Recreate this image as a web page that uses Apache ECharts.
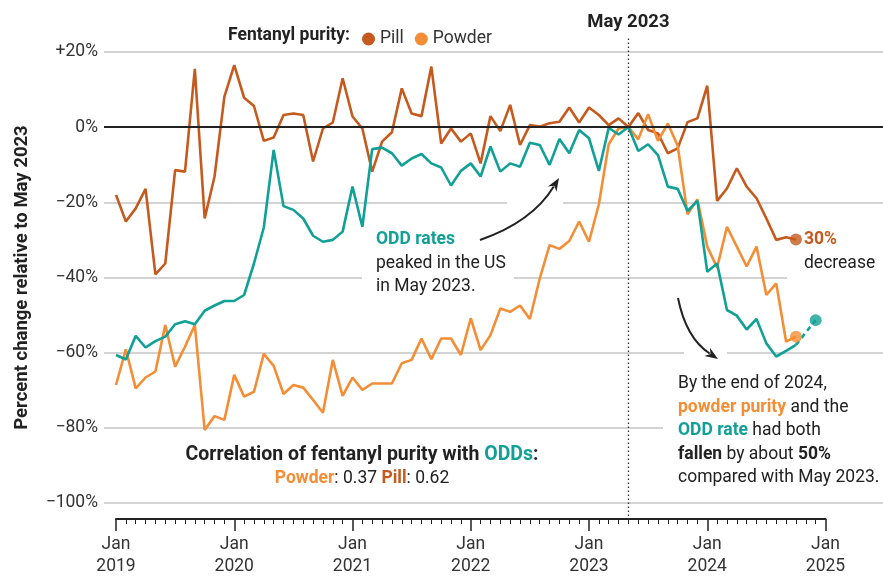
<!DOCTYPE html>
<html><head><meta charset="utf-8">
<script src="https://cdn.jsdelivr.net/npm/echarts@6/dist/echarts.min.js"></script>
<style>html,body{margin:0;padding:0;background:#fff}#c{width:883px;height:578px}</style>
</head><body><div id="c"></div>
<script>
// ---- data (percent change relative to May 2023), monthly from Jan 2019 ----
const yearLabels = ['2019','2020','2021','2022','2023','2024','2025'];
const yTickValues = [-100,-80,-60,-40,-20,0,20];
const pill = [
  -18.1,-25.2,-21.7,-16.5,-39.3,-36.4,-11.5,-11.9,15.5,-24.4,-13.2,8.1,
  16.5,7.8,5.6,-3.7,-2.8,3.2,3.6,3.2,-9.2,-0.4,1.2,13.0,
  2.8,-0.4,-11.9,-3.9,-1.4,10.3,3.6,2.9,16.1,-4.4,-0.4,-3.9,
  -1.7,-9.7,2.9,-1.1,5.9,-4.8,0.5,0.1,1.0,1.4,5.2,1.2,
  5.2,3.2,0.5,2.3,0,3.7,-0.8,-1.7,-7.0,-5.7,1.3,2.3,
  11.0,-19.7,-16.4,-11.0,-15.9,-19.0,-24.4,-30.1,-29.4,-30.0
];
const powder = [
  -68.8,-59.3,-69.7,-66.8,-65.2,-52.8,-63.9,-58.6,-52.8,-80.8,-77.1,-78.1,
  -66.1,-71.9,-70.6,-60.5,-63.7,-71.2,-68.8,-69.5,-72.8,-76.2,-62.1,-71.7,
  -66.8,-70.1,-68.4,-68.4,-68.4,-63.0,-62.1,-56.4,-61.9,-56.4,-56.4,-60.8,
  -51.0,-59.5,-55.5,-48.4,-49.3,-47.6,-51.2,-40.4,-31.5,-32.5,-30.4,-25.2,
  -30.6,-20.6,-4.6,-0.4,0,-3.3,3.4,-3.7,0.9,-5.0,-23.3,-19.3,
  -31.9,-37.5,-26.6,-31.9,-37.2,-31.9,-44.8,-41.7,-57.2,-55.9
];
const odd = [
  -60.8,-62.0,-55.7,-58.8,-57.1,-55.9,-52.6,-51.8,-52.6,-49.0,-47.6,-46.4,
  -46.4,-44.8,-36.4,-26.8,-6.1,-21.1,-22.1,-24.4,-29.0,-30.6,-30.1,-27.9,
  -15.9,-26.6,-5.9,-5.5,-7.0,-10.3,-8.4,-7.2,-9.7,-10.8,-15.6,-11.7,
  -9.7,-13.2,-5.2,-11.9,-9.7,-10.6,-4.2,-4.8,-10.1,-3.2,-7.0,-0.8,
  -3.0,-11.7,-0.2,-2.0,0,-6.4,-4.6,-7.5,-15.9,-16.5,-22.4,-19.7,
  -38.6,-36.4,-48.8,-50.3,-54.0,-51.2,-57.7,-61.2,-59.7,-58.1,
  null,-51.5
];
const referenceMonth = 52; // May 2023

// ---- styling ----
const F = 'Roboto, "Liberation Sans", sans-serif';
const FS = 17.5;
const PILL = '#c55a1e', POWDER = '#f38e36', ODD = '#11a096', INK = '#222';

const pairs = arr => arr.map((v,i)=>[i,v]);
const lastIdx = pill.length - 1;
const oddSolid = pairs(odd).filter(p=>p[1]!==null && p[0]<=lastIdx);
const oddDash = pairs(odd).filter(p=>p[1]!==null && p[0]>=lastIdx);
const oddEnd = oddDash[oddDash.length-1];

function arrow(x0,y0,cx,cy,x1,y1){
  const dx=x1-cx, dy=y1-cy, L=Math.hypot(dx,dy), ux=dx/L, uy=dy/L, hl=13, hw=5;
  const bx=x1-ux*hl, by=y1-uy*hl;
  return [
    {type:'bezierCurve', z:5, shape:{x1:x0,y1:y0,cpx1:cx,cpy1:cy,x2:bx+ux*3,y2:by+uy*3}, style:{stroke:INK,lineWidth:2,fill:null}},
    {type:'polygon', z:5, shape:{points:[[x1,y1],[bx-uy*hw,by+ux*hw],[bx+ux*4,by+uy*4],[bx+uy*hw,by-ux*hw]]}, style:{fill:INK}}
  ];
}
function gap(x,y,w){ return {type:'rect', z:1, shape:{x:x,y:y-6,width:w,height:12}, style:{fill:'#fff'}}; }
function txt(x,y,text,rich,align){
  return {type:'text', z:6, x:x, y:y, style:{text:text, fontFamily:F, fontSize:FS, fill:INK, lineHeight:23.5,
    align:align||'left', textAlign:align||'left', verticalAlign:'top', textVerticalAlign:'top', rich:rich||{}}};
}
const B = (c,s)=>({fontFamily:F,fontSize:s||FS,fontWeight:'bold',fill:c,lineHeight:23.5});
const R = ()=>({fontFamily:F,fontSize:FS,fill:INK,lineHeight:23.5});

const chart = echarts.init(document.getElementById('c'), null, {renderer:'canvas'});
chart.setOption({
  animation:false,
  backgroundColor:'#fff',
  textStyle:{fontFamily:F},
  grid:[
    {left:104,right:0,top:52,bottom:75},
    {left:116,right:57.5,top:52,bottom:75},
    {left:116,right:57.5,top:37,bottom:58}
  ],
  legend:{data:['Pill','Powder'], left:357, top:25, icon:'circle', itemWidth:13, itemHeight:13, itemGap:11,
    selectedMode:false, textStyle:{fontFamily:F,fontSize:FS,color:'#333'}},
  xAxis:[
    {gridIndex:0,type:'value',min:0,max:1,show:false},
    {gridIndex:1,type:'value',min:0,max:72,interval:12,offset:17,
      axisLine:{show:true,onZero:false,lineStyle:{color:INK,width:2}},
      axisTick:{show:true,length:12,lineStyle:{color:INK,width:1.5}},
      minorTick:{show:true,splitNumber:12,length:5,lineStyle:{color:INK,width:1}},
      splitLine:{show:false},
      axisLabel:{margin:15,fontFamily:F,fontSize:FS,color:'#333',lineHeight:22,
        formatter:v=>'Jan\n'+yearLabels[Math.round(v/12)]}},
    {gridIndex:2,type:'value',min:0,max:72,show:false}
  ],
  yAxis:[
    {gridIndex:0,type:'value',min:yTickValues[0],max:yTickValues[yTickValues.length-1],interval:20,
      axisLine:{show:false},axisTick:{show:false},
      splitLine:{lineStyle:{color:'#c4c4c4',width:1.5}},
      axisLabel:{margin:6,fontFamily:F,fontSize:FS,color:'#333',
        formatter:v=>(v>0?'+':v<0?'\u2212':'')+Math.abs(v)+'%'},
      name:'Percent change relative to May 2023',nameLocation:'middle',nameRotate:90,nameGap:72,
      nameTextStyle:{fontFamily:F,fontSize:18.5,fontWeight:'bold',color:INK}},
    {gridIndex:1,type:'value',min:-100,max:20,show:false},
    {gridIndex:2,type:'value',min:0,max:1,show:false}
  ],
  series:[
    {type:'line',xAxisIndex:0,yAxisIndex:0,data:[],silent:true,
      markLine:{silent:true,symbol:'none',data:[{yAxis:0}],label:{show:false},lineStyle:{color:INK,width:2,type:'solid'}}},
    {type:'line',xAxisIndex:2,yAxisIndex:2,data:[],silent:true,
      markLine:{silent:true,symbol:'none',data:[{xAxis:referenceMonth}],
        lineStyle:{color:'#333',width:1.3,type:[1.5,2.5]},
        label:{show:true,position:'end',distance:5,formatter:'May 2023',fontFamily:F,fontSize:18.5,fontWeight:'bold',color:INK}}},
    {name:'Pill',type:'line',xAxisIndex:1,yAxisIndex:1,data:pairs(pill),showSymbol:false,z:3,
      lineStyle:{color:PILL,width:2.6},itemStyle:{color:PILL}},
    {name:'Powder',type:'line',xAxisIndex:1,yAxisIndex:1,data:pairs(powder),showSymbol:false,z:3,
      lineStyle:{color:POWDER,width:2.6},itemStyle:{color:POWDER}},
    {name:'ODD rate',type:'line',xAxisIndex:1,yAxisIndex:1,data:oddSolid,showSymbol:false,z:4,
      lineStyle:{color:ODD,width:2.6},itemStyle:{color:ODD}},
    {name:'ODD rate (latest)',type:'line',xAxisIndex:1,yAxisIndex:1,data:oddDash,showSymbol:false,z:4,
      lineStyle:{color:ODD,width:2.6,type:[5,4]},itemStyle:{color:ODD}},
    {type:'scatter',xAxisIndex:1,yAxisIndex:1,symbolSize:12,z:5,
      data:[
        {value:[lastIdx,pill[lastIdx]],itemStyle:{color:PILL}},
        {value:[lastIdx,powder[lastIdx]],itemStyle:{color:POWDER}},
        {value:oddEnd,itemStyle:{color:ODD}}
      ]}
  ],
  graphic:[
    gap(507,202,56), gap(362,277,152), gap(787,277,96), gap(684,352,43), gap(663,427,220),
    ...arrow(480,240,532,222,559,178),
    ...arrow(678,298,686,338,718,359),
    txt(228,24,'{b|Fentanyl purity:}',{b:B(INK)}),
    txt(376,228,'{o|ODD rates}\npeaked in the US\nin May 2023.',{o:B(ODD)}),
    txt(804,228,'{p|30%}\ndecrease',{p:B(PILL)}),
    txt(678,372,'By the end of 2024,\n{w|powder purity}{r| and the}\n{o|ODD rate}{r| had both}\n{b|fallen}{r| by about }{b|50%}\ncompared with May 2023.',
        {w:B(POWDER),o:B(ODD),b:B(INK),r:R()}),
    txt(362,443,'{b|Correlation of fentanyl purity with }{o|ODDs}{b|:}\n{w|Powder}{r|: 0.37 }{p|Pill}{r|: 0.62}',
        {b:B(INK,19.5),o:B(ODD,19.5),w:B(POWDER),p:B(PILL),r:R()},'center')
  ]
});
</script></body></html>
